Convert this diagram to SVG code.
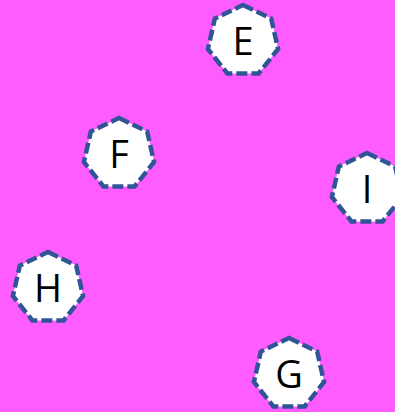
<svg xmlns="http://www.w3.org/2000/svg" xmlns:xlink="http://www.w3.org/1999/xlink" width="395" height="412" viewBox="0 0 395 412">
<style>
.hep{fill:#ffffff;stroke:#2f5597;stroke-width:4.5;stroke-dasharray:11 4;}
.node text{font-family:"Open Sans","Noto Sans",sans-serif;font-size:38px;fill:#000000;text-anchor:middle;}
</style>
<defs>
<polygon id="hep" class="hep" points="0,-36 28.15,-22.45 35.1,8.01 15.62,32.43 -15.62,32.43 -35.1,8.01 -28.15,-22.45"/>
</defs>
<rect x="0" y="0" width="395" height="412" fill="#ff5cff"/>
<g id="connectors"></g>
<g id="node-E" class="node" transform="translate(243,41)"><use xlink:href="#hep" href="#hep"/><text x="0" y="13.5">E</text></g>
<g id="node-F" class="node" transform="translate(119,154)"><use xlink:href="#hep" href="#hep"/><text x="0" y="13.5">F</text></g>
<g id="node-I" class="node" transform="translate(367,189)"><use xlink:href="#hep" href="#hep"/><text x="0" y="13.5">I</text></g>
<g id="node-H" class="node" transform="translate(48,288)"><use xlink:href="#hep" href="#hep"/><text x="0" y="13.5">H</text></g>
<g id="node-G" class="node" transform="translate(289,374)"><use xlink:href="#hep" href="#hep"/><text x="0" y="13.5">G</text></g>
</svg>
